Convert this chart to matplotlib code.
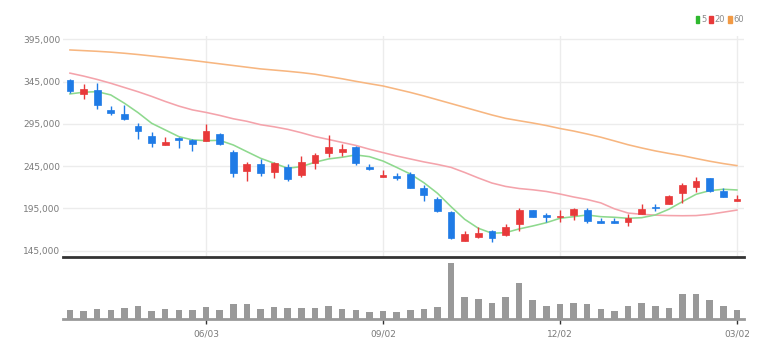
import matplotlib
matplotlib.use("Agg")
import matplotlib.pyplot as plt
from matplotlib.patches import Rectangle
import numpy as np

plt.rcParams['font.family'] = ['Liberation Sans Narrow', 'DejaVu Sans']

# ---- data (weekly candles, KRW) ----
opens = [346.9, 330.4, 335.1, 311.1, 306.4, 292.5, 280.7, 270.0, 278.3, 276.0,
         274.8, 283.0, 261.4, 239.6, 247.2, 237.7, 244.4, 234.6, 248.4, 260.9,
         261.4, 268.0, 244.4, 232.5, 233.4, 235.7, 219.5, 205.8, 191.1, 156.5,
         161.6, 168.3, 163.2, 176.6, 193.1, 186.9, 185.0, 187.2, 193.1, 180.1,
         180.5, 178.6, 188.4, 197.0, 200.2, 212.9, 220.7, 230.6, 215.6, 204.2]
highs = [348.0, 341.9, 343.0, 316.2, 317.4, 295.7, 285.8, 279.2, 279.9, 277.1,
         294.9, 284.6, 264.1, 250.3, 253.1, 250.3, 247.2, 257.0, 260.9, 281.9,
         271.2, 268.8, 247.6, 240.5, 236.6, 238.5, 222.7, 208.9, 191.9, 168.3,
         173.4, 169.5, 176.6, 195.2, 193.5, 189.2, 193.0, 195.2, 195.2, 183.3,
         183.5, 188.4, 199.9, 199.9, 211.0, 225.4, 231.8, 231.4, 218.8, 210.9]
lows = [332.0, 324.8, 312.3, 305.5, 300.0, 276.8, 267.3, 270.0, 266.1, 263.3,
        274.8, 269.7, 232.5, 227.5, 233.4, 230.6, 227.8, 232.5, 241.3, 255.5,
        257.0, 246.4, 240.5, 232.5, 228.6, 218.8, 204.2, 190.8, 158.8, 156.5,
        159.7, 155.6, 162.4, 168.3, 184.5, 179.3, 179.0, 181.3, 178.1, 178.0,
        178.0, 174.2, 188.4, 192.3, 200.0, 201.1, 214.8, 214.1, 208.0, 204.2]
closes = [334.3, 336.0, 317.4, 308.3, 300.8, 287.0, 272.8, 274.0, 276.0, 271.2,
          287.0, 271.2, 237.3, 247.2, 237.3, 249.1, 229.8, 250.3, 258.6, 267.3,
          265.3, 248.4, 242.0, 234.2, 231.0, 219.5, 210.9, 192.3, 160.4, 164.4,
          165.6, 160.4, 172.7, 193.1, 185.2, 185.2, 186.5, 194.0, 180.1, 178.1,
          178.2, 184.0, 194.0, 195.9, 210.1, 222.7, 227.8, 216.0, 208.2, 206.2]
volumes = [25, 22, 28, 25, 32, 37, 22, 29, 27, 27, 34, 25, 43, 43, 29, 34, 32, 32, 33, 39,
           29, 27, 20, 23, 19, 25, 28, 34, 162, 64, 59, 47, 64, 106, 54, 37, 43, 48, 44, 28,
           23, 37, 48, 37, 32, 74, 72, 54, 37, 27]
ma5 = [330.4, 332.4, 333.1, 329.2, 319.4, 308.3, 295.7, 287.8, 279.9, 276.0,
       275.1, 275.5, 270.0, 262.1, 254.3, 248.4, 242.5, 244.4, 249.6, 253.5,
       255.5, 258.2, 256.2, 251.0, 243.5, 235.7, 225.4, 212.9, 197.0, 182.1,
       171.5, 165.6, 166.3, 170.7, 174.2, 178.1, 183.3, 185.2, 187.2, 185.2,
       184.5, 183.3, 184.0, 187.2, 194.0, 203.0, 211.7, 216.0, 217.6, 216.8]
ma20 = [355.0, 351.5, 347.5, 343.0, 338.0, 333.0, 327.5, 321.5, 316.0, 311.5,
        308.5, 305.0, 301.0, 298.0, 294.0, 291.5, 288.5, 284.5, 280.0, 276.5,
        273.0, 269.5, 265.0, 261.0, 257.0, 253.5, 250.0, 247.0, 243.5, 237.5,
        231.0, 225.0, 221.0, 218.5, 217.0, 215.0, 212.0, 208.5, 205.5, 201.5,
        194.5, 189.5, 188.0, 187.0, 186.5, 186.3, 186.5, 188.0, 190.5, 193.0]
ma60 = [382.4, 381.6, 380.8, 379.8, 378.5, 377.0, 375.3, 373.6, 371.8, 370.0,
        368.0, 366.0, 364.0, 362.0, 360.0, 358.6, 357.2, 355.6, 353.7, 351.0,
        348.3, 345.3, 342.5, 339.8, 336.0, 332.2, 328.0, 323.5, 319.0, 314.5,
        310.0, 305.5, 301.5, 298.7, 296.0, 293.0, 289.5, 286.5, 283.0, 279.2,
        274.8, 270.3, 266.5, 263.0, 260.0, 257.3, 254.0, 250.8, 248.0, 245.6]
date_ticks = [10, 23, 36, 49]
date_labels = ["06/03", "09/02", "12/02", "03/02"]
price_ticks = [145000, 195000, 245000, 295000, 345000, 395000]
ma_labels = ["5", "20", "60"]

RED = '#e8393a'
BLUE = '#1f7be6'
C5, C20, C60 = '#8ed98e', '#f4a3ab', '#f7b680'
LEG5, LEG20, LEG60 = '#2eb82e', '#e8393a', '#f29a44'

W, H = 783, 358
fig = plt.figure(figsize=(W / 100, H / 100), dpi=100)

def fbox(x0, y0, x1, y1):
    return [x0 / W, 1 - y1 / H, (x1 - x0) / W, (y1 - y0) / H]

ax = fig.add_axes(fbox(63, 36, 744, 257))
vax = fig.add_axes(fbox(63, 260, 744, 319))

x = np.arange(len(opens))
o = np.array(opens) * 1000
h = np.array(highs) * 1000
l = np.array(lows) * 1000
c = np.array(closes) * 1000
colors = [RED if cc >= oo else BLUE for oo, cc in zip(o, c)]

# gridlines
for t in price_ticks:
    ax.axhline(t, color='#ececec', lw=1, zorder=0)
for t in date_ticks:
    ax.axvline(t, color='#ececec', lw=1, zorder=0)

ax.plot(x, np.array(ma60) * 1000, color=C60, lw=1.15, zorder=2)
ax.plot(x, np.array(ma20) * 1000, color=C20, lw=1.15, zorder=2)
ax.plot(x, np.array(ma5) * 1000, color=C5, lw=1.15, zorder=2)

bw = 0.5
ax.vlines(x, l, h, colors=colors, lw=1, zorder=3)
for xi, oo, cc, col in zip(x, o, c, colors):
    lo, hi = min(oo, cc), max(oo, cc)
    ax.add_patch(Rectangle((xi - bw / 2, lo), bw, max(hi - lo, 400), facecolor=col,
                           edgecolor=col, lw=0.5, zorder=4))

ax.set_xlim(-0.51, 49.52)
ax.set_ylim(137500, 398900)
ax.set_yticks(price_ticks)
ax.set_yticklabels([f"{t:,}" for t in price_ticks], fontsize=6.5, color='#7a7a7a')
ax.tick_params(axis='y', length=0, pad=2)
ax.set_xticks([])
for s in ['top', 'right', 'left']:
    ax.spines[s].set_visible(False)
ax.spines['bottom'].set_color('#333333')
ax.spines['bottom'].set_linewidth(2)

# volume
vax.bar(x, volumes, width=0.48, color='#999999', zorder=2)
vax.set_xlim(-0.51, 49.52)
vax.set_ylim(0, 172)
vax.set_yticks([])
vax.set_xticks(date_ticks)
vax.set_xticklabels(date_labels, fontsize=6.5, color='#7a7a7a')
vax.tick_params(axis='x', length=3.5, width=1, color='#333333', pad=4)
for s in ['top', 'right', 'left']:
    vax.spines[s].set_visible(False)
vax.spines['bottom'].set_color('#999999')
vax.spines['bottom'].set_linewidth(2)

# legend
handles = [Rectangle((0, 0), 1, 1, color=col) for col in (LEG5, LEG20, LEG60)]
leg = fig.legend(handles, ma_labels, loc='upper right', bbox_to_anchor=(744 / W, 1 - 15 / H),
                 ncol=3, frameon=False, fontsize=6, handlelength=0.45, handleheight=0.9,
                 handletextpad=0.2, columnspacing=0.35, borderpad=0, borderaxespad=0)
for t in leg.get_texts():
    t.set_color('#8a8a8a')

fig.savefig("out.png", dpi=100)
